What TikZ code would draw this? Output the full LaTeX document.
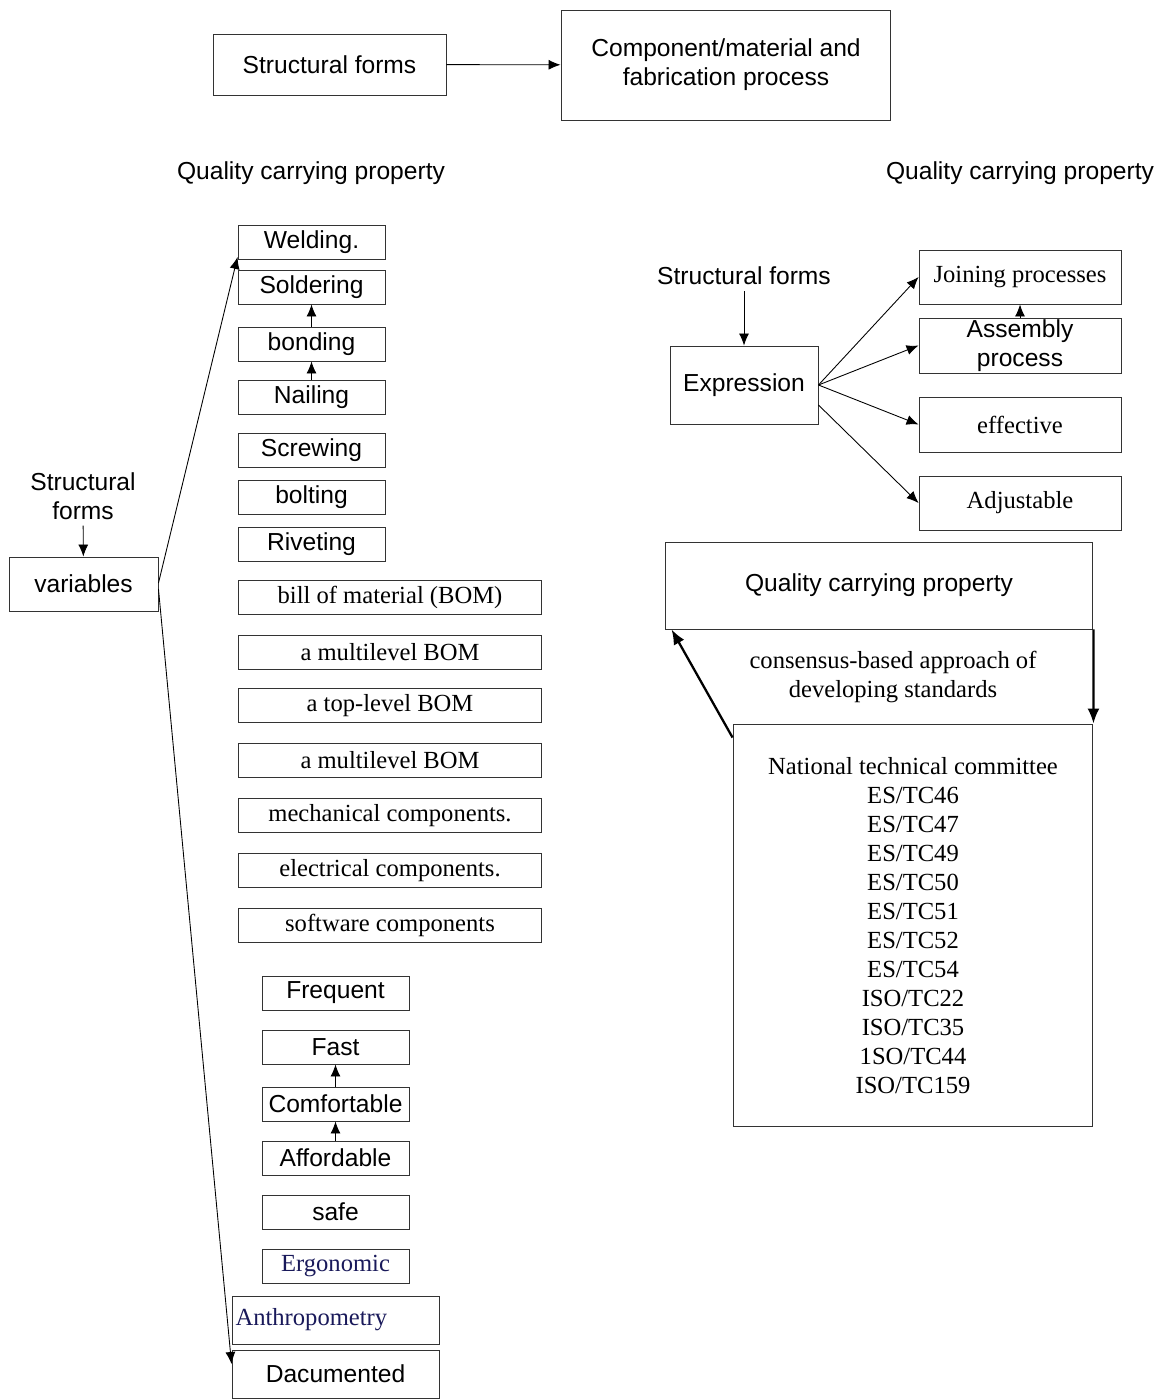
\documentclass[tikz,border=0pt]{standalone}
\usepackage{fontspec}
\setmainfont{Liberation Serif}
\setsansfont{Liberation Sans}
\usepackage{tikz}
\usetikzlibrary{positioning, arrows, arrows.meta, shapes, calc}
\definecolor{navy}{RGB}{25,25,90}
\tikzstyle{arrow} = [line width=0.5pt,-{Latex[length=2.4mm,width=2mm]}]
\tikzstyle{heavyarrow} = [line width=1.3pt,-{Latex[length=3mm,width=2.4mm]}]
\tikzstyle{stage} = [rectangle, draw=black!80, line width=0.55pt, inner sep=0pt, align=center, font=\sffamily\fontsize{14}{16.5}\selectfont]
\tikzstyle{part} = [rectangle, draw=black!80, line width=0.55pt, inner sep=0pt, align=center, font=\rmfamily\fontsize{14}{16.5}\selectfont]
\tikzstyle{plaintext} = [align=center, font=\sffamily\fontsize{14}{16.5}\selectfont]
\tikzstyle{joint} = [stage, minimum width=2.94cm, minimum height=0.68cm]
\tikzstyle{bom} = [part, minimum width=6.08cm, minimum height=0.68cm]
\tikzstyle{outcome} = [part, minimum width=4.04cm, minimum height=1.1cm]

\begin{document}
\begin{tikzpicture}[x=0.02cm, y=-0.02cm]
        \useasboundingbox (0,0) rectangle (1158,1399);

        % top row
        \node (forms) [stage, minimum width=4.66cm, minimum height=1.22cm] at (329.5,64.5) {Structural forms};
        \node (component) [stage, minimum width=6.6cm, minimum height=2.2cm] at (726,65) {Component/material and\\fabrication process};
        \node (qualityleft) [plaintext] at (311,173) {Quality carrying property};
        \node (qualityright) [plaintext] at (1020,173) {Quality carrying property};

        % left branch
        \node (formsleft) [plaintext] at (83,496) {Structural\\forms};
        \node (variables) [stage, minimum width=2.98cm, minimum height=1.08cm] at (83.5,584) {variables};

        \node (welding) [joint] at (311.5,242) {Welding.};
        \node (soldering) [joint] at (311.5,287) {Soldering};
        \node (bonding) [joint] at (311.5,344) {bonding};
        \node (nailing) [joint] at (311.5,397) {Nailing};
        \node (screwing) [joint] at (311.5,450) {Screwing};
        \node (bolting) [joint] at (311.5,497) {bolting};
        \node (riveting) [joint] at (311.5,544) {Riveting};

        \node (bomlist) [bom] at (390,597) {bill of material (BOM)};
        \node (multilevel) [bom] at (390,652) {a multilevel BOM};
        \node (toplevel) [bom] at (390,705.5) {a top-level BOM};
        \node (multilevelb) [bom] at (390,760.5) {a multilevel BOM};
        \node (mechanical) [bom] at (390,815.5) {mechanical components.};
        \node (electrical) [bom] at (390,870.5) {electrical components.};
        \node (software) [bom] at (390,925) {software components};

        \node (frequent) [joint] at (335.5,993) {Frequent};
        \node (fast) [joint] at (335.5,1047) {Fast};
        \node (comfortable) [joint] at (335.5,1104) {Comfortable};
        \node (affordable) [joint] at (335.5,1158) {Affordable};
        \node (safe) [joint] at (335.5,1212) {safe};
        \node (ergonomic) [part, minimum width=2.94cm, minimum height=0.68cm, text=navy] at (335.5,1266) {Ergonomic};
        \node (anthropometry) [part, text width=4.0cm, align=left, inner xsep=0.07cm, minimum height=0.96cm, text=navy] at (335.5,1320) {Anthropometry};
        \node (documented) [stage, minimum width=4.14cm, minimum height=0.96cm] at (335.5,1374) {Dacumented};

        % right branch
        \node (formsright) [plaintext] at (744,276) {Structural forms};
        \node (expression) [stage, minimum width=2.96cm, minimum height=1.56cm] at (744,385) {Expression};
        \node (joining) [outcome, minimum height=1.08cm] at (1020,277) {Joining processes};
        \node (assembly) [stage, minimum width=4.04cm, minimum height=1.1cm] at (1020,345.5) {Assembly\\process};
        \node (effective) [outcome] at (1020,424.5) {effective};
        \node (adjustable) [outcome, minimum height=1.08cm] at (1020,503) {Adjustable};

        \node (quality) [stage, minimum width=8.56cm, minimum height=1.74cm] at (879,585.5) {Quality carrying property};
        \node (consensus) [part, draw=none] at (893,677) {consensus-based approach of\\developing standards};
        \node (committee) [part, minimum width=7.2cm, minimum height=8.06cm] at (913,925.5) {National technical committee\\ES/TC46\\ES/TC47\\ES/TC49\\ES/TC50\\ES/TC51\\ES/TC52\\ES/TC54\\ISO/TC22\\ISO/TC35\\1SO/TC44\\ISO/TC159};

        \draw [arrow] (forms) -- (component);
        \draw [arrow] (formsleft) -- (variables);
        \draw [arrow] ([yshift=0.02cm]variables.east) -- ([yshift=-0.3cm]welding.west);
        \draw [arrow] ([yshift=-0.1cm]variables.east) -- ([yshift=0.2cm]documented.west);
        \draw [arrow] (bonding) -- (soldering);
        \draw [arrow] (nailing) -- (bonding);
        \draw [arrow] (comfortable) -- (fast);
        \draw [arrow] (affordable) -- (comfortable);

        \draw [arrow] (formsright) -- (expression);
        \draw [arrow] (expression.east) -- (joining.west);
        \draw [arrow] (expression.east) -- (assembly.west);
        \draw [arrow] (expression.east) -- (effective.west);
        \draw [arrow] ([yshift=-0.4cm]expression.east) -- (adjustable.west);
        \draw [arrow] (assembly) -- (joining);

        \draw [heavyarrow] ([yshift=-0.28cm]committee.north west) -- ([xshift=0.14cm]quality.south west);
        \draw [heavyarrow] (quality.south east) -- (committee.north east);

        \end{tikzpicture}
\end{document}
